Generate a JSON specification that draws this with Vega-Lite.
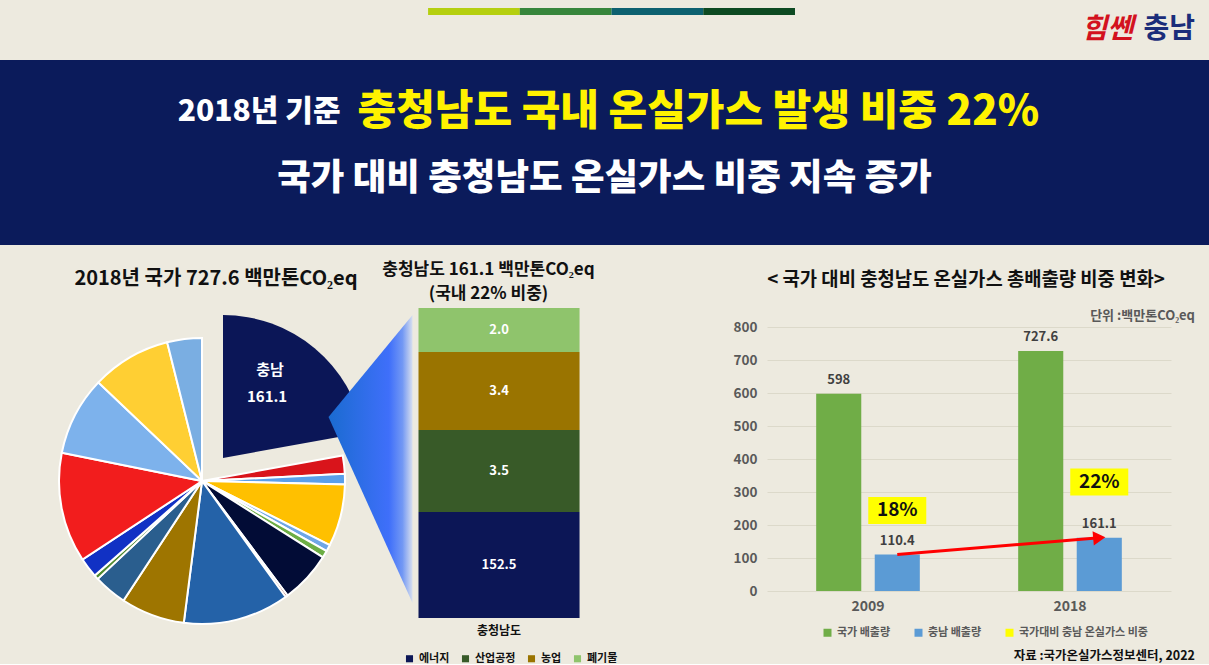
{
  "$schema": "https://vega.github.io/schema/vega-lite/v6.json",
  "background": "#EDEADF",
  "padding": {"left": 0, "top": 8, "right": 0, "bottom": 0},
  "spacing": 16,
  "config": {
    "font": "Noto Sans CJK KR",
    "view": {"stroke": null, "fill": "#EDEADF"},
    "axis": {"labelOverlap": false},
    "title": {"fontWeight": "bold", "color": "#111111", "anchor": "middle"},
    "legend": {"labelFontWeight": "bold", "labelFont": "Noto Sans CJK KR"}
  },
  "resolve": {"scale": {"color": "independent", "opacity": "independent", "theta": "independent", "xOffset": "independent", "shape": "independent", "size": "independent"}, "legend": {"color": "independent"}},
  "vconcat": [
    {
      "width": 1209,
      "height": 7,
      "layer": [
        {
          "data": {"values": [{"seg": "a"}, {"seg": "b"}, {"seg": "c"}, {"seg": "d"}]},
          "mark": {"type": "bar"},
          "encoding": {
            "x": {"field": "seg", "type": "nominal", "axis": null, "scale": {"domain": ["l1", "l2", "l3", "l4", "a", "b", "c", "d", "r1", "r2", "r3", "r4"], "paddingInner": 0, "paddingOuter": 0.59, "align": 0.565}},
            "color": {"field": "seg", "type": "nominal", "legend": null, "scale": {"domain": ["a", "b", "c", "d"], "range": ["#B5CF0F", "#37863C", "#0D6170", "#0D4A22"]}}
          }
        },
        {
          "data": {"values": [{"t": "충남"}]},
          "mark": {"type": "text", "align": "right", "baseline": "middle", "dx": -14, "dy": 18, "fontSize": 28, "fontWeight": "bold", "color": "#1B2D7A"},
          "encoding": {"x": {"value": "width"}, "text": {"field": "t"}}
        },
        {
          "data": {"values": [{"t": "힘쎈"}]},
          "mark": {"type": "text", "align": "right", "baseline": "middle", "dx": -76, "dy": 18, "fontSize": 28, "fontWeight": "bold", "color": "#D3121E", "fontStyle": "italic"},
          "encoding": {"x": {"value": "width"}, "text": {"field": "t"}}
        }
      ]
    },
    {
      "width": 1209,
      "height": 185,
      "view": {"fill": "#0B1B5B", "stroke": null},
      "data": {"values": [
        {"line": "1", "part": "a", "text": "2018년 기준"},
        {"line": "1", "part": "b", "text": "충청남도 국내 온실가스 발생 비중 22%"},
        {"line": "2", "part": "c", "text": "국가 대비 충청남도 온실가스 비중 지속 증가"}
      ]},
      "layer": [
        {
          "transform": [{"filter": "datum.part === 'a'"}],
          "mark": {"type": "text", "align": "right", "baseline": "middle", "dx": -264, "dy": -7, "fontSize": 30, "fontWeight": 900, "color": "#FFFFFF"},
          "encoding": {
            "y": {"field": "line", "type": "ordinal", "axis": null, "scale": {"type": "point", "padding": 0.9}},
            "text": {"field": "text"}
          }
        },
        {
          "transform": [{"filter": "datum.part === 'b'"}],
          "mark": {"type": "text", "align": "left", "baseline": "middle", "dx": -247, "dy": -7, "fontSize": 42, "fontWeight": 900, "color": "#FFF200"},
          "encoding": {
            "y": {"field": "line", "type": "ordinal", "axis": null, "scale": {"type": "point", "padding": 0.9}},
            "text": {"field": "text"}
          }
        },
        {
          "transform": [{"filter": "datum.part === 'c'"}],
          "mark": {"type": "text", "align": "center", "baseline": "middle", "dx": 0, "dy": -7, "fontSize": 36.5, "fontWeight": 900, "color": "#FFFFFF"},
          "encoding": {
            "y": {"field": "line", "type": "ordinal", "axis": null, "scale": {"type": "point", "padding": 0.9}},
            "text": {"field": "text"}
          }
        }
      ]
    },
    {
      "bounds": "flush",
      "spacing": 0,
      "resolve": {"scale": {"color": "independent", "x": "independent", "y": "independent", "xOffset": "independent", "theta": "independent", "opacity": "independent"}, "legend": {"color": "independent"}},
      "hconcat": [
        {
          "width": 404,
          "height": 346,
          "title": {"text": "2018년 국가 727.6 백만톤CO₂eq", "fontSize": 20, "offset": 19, "dx": 14},
          "data": {"values": [
            {"ord": 1, "sector": "충남", "value": 161.1},
            {"ord": 2, "sector": "지역02", "value": 15.0},
            {"ord": 3, "sector": "지역03", "value": 8.7},
            {"ord": 4, "sector": "지역04", "value": 50.9},
            {"ord": 5, "sector": "지역05", "value": 5.5},
            {"ord": 6, "sector": "지역06", "value": 5.9},
            {"ord": 7, "sector": "지역07", "value": 42.4},
            {"ord": 8, "sector": "지역08", "value": 2.0},
            {"ord": 9, "sector": "지역09", "value": 87.1},
            {"ord": 10, "sector": "지역10", "value": 52.5},
            {"ord": 11, "sector": "지역11", "value": 27.3},
            {"ord": 12, "sector": "지역12", "value": 3.6},
            {"ord": 13, "sector": "지역13", "value": 16.4},
            {"ord": 14, "sector": "지역14", "value": 90.3},
            {"ord": 15, "sector": "지역15", "value": 65.1},
            {"ord": 16, "sector": "지역16", "value": 65.3},
            {"ord": 17, "sector": "지역17", "value": 28.5}
          ]},
          "layer": [
            {
              "mark": {"type": "arc", "outerRadius": 143, "stroke": "#FFFFFF", "strokeWidth": 2},
              "encoding": {
                "theta": {"field": "value", "type": "quantitative", "stack": true},
                "order": {"field": "ord", "type": "quantitative"},
                "color": {"field": "sector", "type": "nominal", "legend": null, "scale": {
                  "domain": ["충남", "지역02", "지역03", "지역04", "지역05", "지역06", "지역07", "지역08", "지역09", "지역10", "지역11", "지역12", "지역13", "지역14", "지역15", "지역16", "지역17"],
                  "range": ["#0B1657", "#D9141B", "#5A9FEA", "#FFC000", "#6FA6E6", "#6DAE45", "#020C36", "#8C2A1E", "#2462A8", "#9E7500", "#2A5E8E", "#4F8A2E", "#1131C4", "#F21D1D", "#7DB2EC", "#FFCF33", "#7AAEE2"]}},
                "opacity": {"condition": {"test": "datum.sector === '충남'", "value": 0}, "value": 1}
              }
            },
            {
              "mark": {"type": "arc", "outerRadius": 143, "xOffset": 21, "yOffset": -23},
              "encoding": {
                "theta": {"field": "value", "type": "quantitative", "stack": true},
                "order": {"field": "ord", "type": "quantitative"},
                "color": {"field": "sector", "type": "nominal", "legend": null},
                "opacity": {"condition": {"test": "datum.sector === '충남'", "value": 1}, "value": 0}
              }
            },
            {
              "mark": {"type": "text", "radius": 100, "dx": 4, "dy": -34, "fontSize": 15, "fontWeight": "bold", "color": "#FFFFFF"},
              "encoding": {
                "theta": {"field": "value", "type": "quantitative", "stack": true},
                "order": {"field": "ord", "type": "quantitative"},
                "text": {"field": "sector"},
                "opacity": {"condition": {"test": "datum.sector === '충남'", "value": 1}, "value": 0}
              }
            },
            {
              "mark": {"type": "text", "radius": 100, "dx": 1, "dy": -7, "fontSize": 15, "fontWeight": "bold", "color": "#FFFFFF"},
              "encoding": {
                "theta": {"field": "value", "type": "quantitative", "stack": true},
                "order": {"field": "ord", "type": "quantitative"},
                "text": {"field": "value", "format": ".1f"},
                "opacity": {"condition": {"test": "datum.sector === '충남'", "value": 1}, "value": 0}
              }
            }
          ]
        },
        {
          "width": 363,
          "height": 310,
          "title": {"text": ["충청남도 161.1 백만톤CO₂eq", "(국내 22% 비중)"], "fontSize": 17, "lineHeight": 24, "offset": 5, "dx": -97},
          "layer": [
            {
              "data": {"values": [{"region": "충청남도"}]},
              "mark": {"type": "point", "filled": true, "opacity": 1, "size": 40000, "strokeWidth": 0,
                "shape": "M -1.705 -0.46 L -0.865 -1.48 L -0.865 1.40 Z",
                "fill": {"gradient": "linear", "x1": 0, "y1": 0, "x2": 1, "y2": 0, "stops": [
                  {"offset": 0, "color": "#1A6BD0"}, {"offset": 0.72, "color": "#3F6FFA"}, {"offset": 0.88, "color": "#7298F4"}, {"offset": 1, "color": "#D8DFEE"}]}},
              "encoding": {
                "x": {"field": "region", "type": "nominal", "axis": {"title": null, "labelAngle": 0, "labelFontSize": 12, "labelFontWeight": "bold", "labelColor": "#111111", "ticks": false, "domain": false, "labelPadding": 7}, "scale": {"paddingInner": 0, "paddingOuter": 0.627, "align": 0.0718}}
              }
            },
            {
              "data": {"values": [
                {"region": "충청남도", "ord": 1, "sector": "에너지", "value": 152.5},
                {"region": "충청남도", "ord": 2, "sector": "산업공정", "value": 3.5},
                {"region": "충청남도", "ord": 3, "sector": "농업", "value": 3.4},
                {"region": "충청남도", "ord": 4, "sector": "폐기물", "value": 2.0}
              ]},
              "layer": [
                {
                  "mark": {"type": "bar"},
                  "encoding": {
                    "x": {"field": "region", "type": "nominal"},
                    "y": {"field": "value", "type": "quantitative", "stack": "zero", "axis": null, "scale": {"domain": [0, 152.5, 156, 159.4, 161.4], "range": [310, 204, 122, 44, 0], "nice": false, "zero": false}},
                    "order": {"field": "ord", "type": "quantitative"},
                    "color": {"field": "sector", "type": "nominal", "scale": {"domain": ["에너지", "산업공정", "농업", "폐기물"], "range": ["#0C1656", "#385A28", "#9A7400", "#8FC46C"]},
                      "legend": {"title": null, "orient": "bottom", "direction": "horizontal", "symbolType": "square", "symbolSize": 50, "labelFontSize": 11, "labelColor": "#111111", "offset": 17, "columnPadding": 10}}
                  }
                },
                {
                  "mark": {"type": "text", "fontSize": 13, "fontWeight": "bold", "color": "#FFFFFF", "baseline": "middle"},
                  "encoding": {
                    "x": {"field": "region", "type": "nominal"},
                    "y": {"field": "value", "type": "quantitative", "stack": "zero", "bandPosition": 0.5},
                    "order": {"field": "ord", "type": "quantitative"},
                    "text": {"field": "value", "format": ".1f"}
                  }
                }
              ]
            }
          ]
        },
        {
          "width": 404,
          "height": 283,
          "title": {"text": "< 국가 대비 충청남도 온실가스 총배출량 비중 변화>", "fontSize": 18.8, "offset": 18, "dx": -3},
          "layer": [
            {
              "data": {"values": [
                {"year": "2009", "series": "국가 배출량", "value": 598, "label": "598"},
                {"year": "2009", "series": "충남 배출량", "value": 110.4, "label": "110.4"},
                {"year": "2018", "series": "국가 배출량", "value": 727.6, "label": "727.6"},
                {"year": "2018", "series": "충남 배출량", "value": 161.1, "label": "161.1"}
              ]},
              "layer": [
                {
                  "mark": {"type": "bar"},
                  "encoding": {
                    "x": {"field": "year", "type": "nominal", "scale": {"paddingInner": 0, "paddingOuter": 0}, "axis": {"title": null, "labelAngle": 0, "labelFontSize": 14, "labelFontWeight": "bold", "labelColor": "#595959", "ticks": false, "domain": false, "labelPadding": 8}},
                    "xOffset": {"field": "series", "type": "nominal", "scale": {"domain": ["국가 배출량", "충남 배출량"], "paddingInner": 0.23, "paddingOuter": 0.84}},
                    "y": {"field": "value", "type": "quantitative", "scale": {"domain": [0, 857.6], "nice": false}, "axis": {"title": null, "values": [0, 100, 200, 300, 400, 500, 600, 700, 800], "tickCount": 9, "labelOverlap": false, "labelFontSize": 13.5, "labelFontWeight": "bold", "labelColor": "#595959", "ticks": false, "domain": false, "labelPadding": 10, "gridColor": "#DCD9CA", "gridWidth": 1}},
                    "color": {"field": "series", "type": "nominal", "scale": {"domain": ["국가 배출량", "충남 배출량", "국가대비 충남 온실가스 비중"], "range": ["#70AD47", "#5B9BD5", "#FFFF00"]},
                      "legend": {"title": null, "orient": "none", "legendX": 55, "legendY": 319, "direction": "horizontal", "symbolType": "square", "symbolSize": 64, "labelFontSize": 11, "labelColor": "#595959", "columnPadding": 22}}
                  }
                },
                {
                  "mark": {"type": "text", "fontSize": 13, "fontWeight": "bold", "color": "#404040", "baseline": "middle", "dy": -14},
                  "encoding": {
                    "x": {"field": "year", "type": "nominal"},
                    "xOffset": {"field": "series", "type": "nominal"},
                    "y": {"field": "value", "type": "quantitative"},
                    "text": {"field": "label"}
                  }
                }
              ]
            },
            {
              "data": {"values": [
                {"year": "2009", "series": "충남 배출량", "kind": "국가대비 충남 온실가스 비중", "pct": "18%", "pos": 244},
                {"year": "2018", "series": "충남 배출량", "kind": "국가대비 충남 온실가스 비중", "pct": "22%", "pos": 330}
              ]},
              "layer": [
                {
                  "mark": {"type": "point", "filled": true, "opacity": 1, "size": 3364, "strokeWidth": 0, "shape": "M -1 -0.465 L 1 -0.465 L 1 0.465 L -1 0.465 Z"},
                  "encoding": {
                    "x": {"field": "year", "type": "nominal"},
                    "xOffset": {"field": "series", "type": "nominal"},
                    "y": {"field": "pos", "type": "quantitative"},
                    "color": {"field": "kind", "type": "nominal"}
                  }
                },
                {
                  "mark": {"type": "text", "fontSize": 19, "fontWeight": "bold", "color": "#111111", "baseline": "middle"},
                  "encoding": {
                    "x": {"field": "year", "type": "nominal"},
                    "xOffset": {"field": "series", "type": "nominal"},
                    "y": {"field": "pos", "type": "quantitative"},
                    "text": {"field": "pct"}
                  }
                }
              ]
            },
            {
              "data": {"values": [
                {"year": "2009", "series": "충남 배출량", "value": 110.4},
                {"year": "2018", "series": "충남 배출량", "value": 161.1}
              ]},
              "layer": [
                {
                  "mark": {"type": "line", "color": "#FF0000", "strokeWidth": 3},
                  "encoding": {
                    "x": {"field": "year", "type": "nominal"},
                    "xOffset": {"field": "series", "type": "nominal"},
                    "y": {"field": "value", "type": "quantitative"}
                  }
                },
                {
                  "transform": [{"filter": "datum.year === '2018'"}],
                  "mark": {"type": "point", "shape": "triangle-right", "filled": true, "color": "#FF0000", "opacity": 1, "size": 200, "angle": -5},
                  "encoding": {
                    "x": {"field": "year", "type": "nominal"},
                    "xOffset": {"field": "series", "type": "nominal"},
                    "y": {"field": "value", "type": "quantitative"}
                  }
                }
              ]
            },
            {
              "data": {"values": [{"t": "단위 :백만톤CO₂eq"}]},
              "mark": {"type": "text", "align": "right", "baseline": "middle", "dx": 24, "dy": -11, "fontSize": 13, "fontWeight": "bold", "color": "#595959"},
              "encoding": {"x": {"value": "width"}, "y": {"datum": 800}, "text": {"field": "t"}}
            },
            {
              "data": {"values": [{"t": "자료 :국가온실가스정보센터, 2022"}]},
              "mark": {"type": "text", "align": "right", "baseline": "middle", "dx": 24, "dy": 65, "fontSize": 12.5, "fontWeight": "bold", "color": "#111111"},
              "encoding": {"x": {"value": "width"}, "y": {"datum": 0}, "text": {"field": "t"}}
            }
          ]
        }
      ]
    }
  ]
}
